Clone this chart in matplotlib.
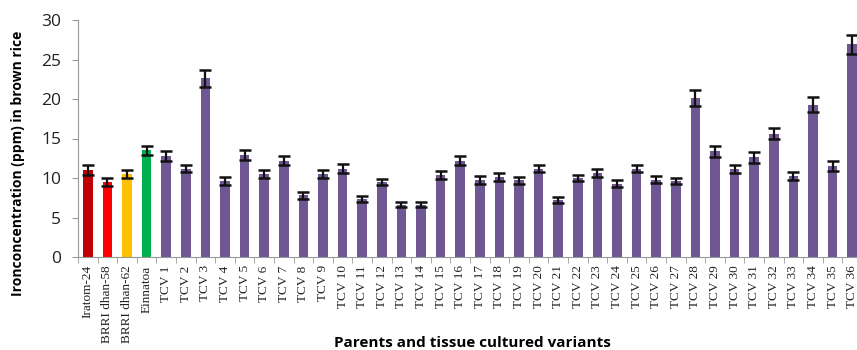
import numpy as np
import matplotlib
matplotlib.use('Agg')
import matplotlib.pyplot as plt

# data
parents = ['Iratom-24', 'BRRI dhan-58', 'BRRI dhan-62', 'Einnatoa']
parent_iron = [11.0, 9.5, 10.5, 13.5]
parent_err = [0.6, 0.5, 0.5, 0.6]
parent_colors = ['#C00000', '#FF0000', '#FFC000', '#00B050']

tcv_labels = ['TCV %d' % i for i in range(1, 37)]
tcv_iron = [12.8, 11.2, 22.6, 9.6, 12.9, 10.5, 12.2, 7.8, 10.5, 11.2,
            7.3, 9.5, 6.6, 6.6, 10.4, 12.2, 9.7, 10.1, 9.7, 11.2,
            7.2, 10.0, 10.6, 9.3, 11.2, 9.8, 9.6, 20.1, 13.4, 11.1,
            12.6, 15.6, 10.2, 19.3, 11.5, 26.9]
tcv_err = [0.6, 0.5, 1.1, 0.5, 0.6, 0.5, 0.6, 0.4, 0.5, 0.6,
           0.4, 0.4, 0.3, 0.3, 0.5, 0.6, 0.5, 0.5, 0.4, 0.5,
           0.4, 0.4, 0.5, 0.5, 0.5, 0.4, 0.4, 1.0, 0.7, 0.5,
           0.7, 0.7, 0.5, 1.0, 0.6, 1.2]
tcv_color = '#6E5793'

labels = parents + tcv_labels
values = parent_iron + tcv_iron
errors = parent_err + tcv_err
colors = parent_colors + [tcv_color] * len(tcv_labels)

W, H = 857, 350
fig = plt.figure(figsize=(W / 100, H / 100), dpi=100)
# axes runs past the right edge of the figure, like the cropped original
left, right, bottom, top = 78, 862, 257, 20
ax = fig.add_axes([left / W, (H - bottom) / H, (right - left) / W, (bottom - top) / H])

x = np.arange(len(labels))
ax.bar(x, values, width=0.48, color=colors, zorder=2)
ax.errorbar(x, values, yerr=errors, fmt='none', ecolor='#111111',
            elinewidth=1.6, capsize=4, capthick=1.8, zorder=3)

ax.set_xlim(-0.5, len(labels) - 0.5)
ax.set_ylim(0, 30)
ax.set_yticks(np.arange(0, 31, 5))
ax.set_yticklabels([str(v) for v in range(0, 31, 5)], fontsize=12.5,
                   family=['Open Sans', 'DejaVu Sans'], color='#222222')

# category labels at centres, tick marks at boundaries
ax.set_xticks(x)
ax.set_xticklabels(labels, rotation=90, fontsize=9.5, family='Liberation Serif',
                   color='#222222')
ax.tick_params(axis='x', which='major', length=0, pad=6)
ax.set_xticks(np.arange(-0.5, len(labels), 1), minor=True)
ax.tick_params(axis='x', which='minor', length=4, color='#999999', direction='out')
ax.tick_params(axis='y', length=4, color='#999999', pad=8)

for side in ['top', 'right']:
    ax.spines[side].set_visible(False)
for side in ['left', 'bottom']:
    ax.spines[side].set_color('#999999')

fig.text(18 / W, 1 - 163 / H, 'Ironconcentration (ppm) in brown rice', rotation=90,
         ha='center', va='center', fontsize=10, fontweight='bold',
         family=['Open Sans', 'DejaVu Sans'])
fig.text(472 / W, 1 - 343 / H, 'Parents and tissue cultured variants', ha='center',
         va='center', fontsize=11, fontweight='bold', family=['Open Sans', 'DejaVu Sans'])

fig.savefig('out.png', dpi=100)
